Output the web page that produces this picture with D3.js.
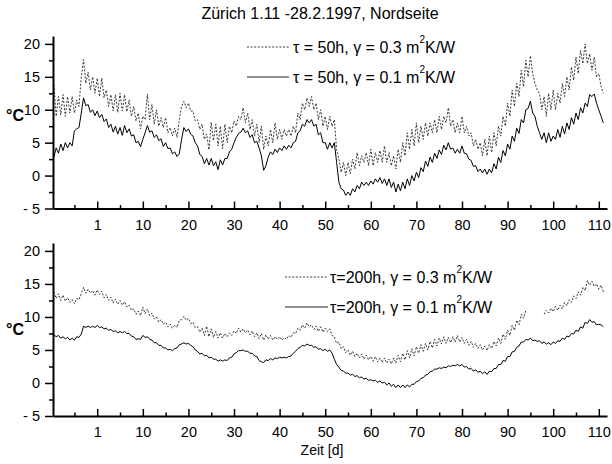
<!DOCTYPE html>
<html>
<head>
<meta charset="utf-8">
<script src="https://cdn.jsdelivr.net/npm/d3@7"></script>
<style>
  body { margin: 0; background: #fff; }
  svg { font-family: "Liberation Sans", Arial, sans-serif; }
</style>
</head>
<body>
<svg id="chart" width="612" height="464"></svg>
<script>
// values, one point every half day starting at day -9.5
const dayStart = -9.5;
const dayStep = 0.5;

// tau = 50h, gamma = 0.3
const tau50g03 = [
  13.8, 9.0, 12.0, 9.2, 12.3, 9.0, 12.0, 9.5, 12.0, 9.5, 11.5, 10.5, 15.0, 17.6, 14.0, 15.7, 13.0, 15.0, 12.5, 14.8,
  12.0, 14.8, 11.8, 13.0, 10.5, 12.3, 9.8, 12.3, 9.6, 12.5, 9.8, 12.3, 9.7, 11.5, 9.0, 10.5, 8.3, 9.5, 7.1, 9.0,
  8.5, 12.4, 8.5, 10.8, 7.8, 10.0, 7.5, 8.8, 7.3, 8.8, 6.5, 7.3, 6.0, 7.2, 5.8, 8.5, 10.5, 11.3, 10.3, 11.0,
  9.8, 9.8, 8.3, 8.5, 7.0, 7.8, 5.5, 6.3, 3.9, 8.1, 5.3, 7.8, 4.5, 7.5, 4.1, 7.8, 5.0, 7.5, 6.5, 8.3,
  7.5, 9.0, 8.5, 10.3, 8.0, 9.5, 7.0, 8.5, 6.0, 7.8, 5.0, 7.5, 4.0, 6.0, 4.5, 7.0, 5.0, 8.0, 5.5, 7.0,
  5.5, 7.0, 6.0, 7.0, 6.0, 7.5, 6.5, 9.5, 8.5, 11.0, 10.0, 11.8, 10.5, 12.0, 10.0, 11.0, 8.5, 10.0, 7.5, 9.0,
  7.0, 9.0, 7.5, 8.5, 4.0, 2.5, 0.5, 2.0, 0.0, 2.0, 0.3, 2.5, 1.0, 3.5, 1.5, 3.0, 2.0, 3.5, 1.5, 4.0,
  1.5, 3.5, 2.0, 3.8, 2.0, 4.5, 2.0, 3.5, 1.5, 3.0, 1.0, 4.0, 2.0, 5.0, 3.0, 6.5, 4.0, 7.0, 4.5, 8.0,
  5.0, 7.5, 5.5, 8.0, 6.0, 8.0, 6.5, 8.5, 6.5, 9.0, 7.0, 9.0, 8.0, 10.3, 7.5, 8.5, 6.5, 8.0, 6.5, 9.0,
  6.5, 7.5, 6.0, 6.5, 4.5, 5.5, 4.0, 5.0, 3.0, 5.5, 3.0, 6.0, 3.5, 6.5, 4.5, 7.5, 6.0, 9.0, 7.5, 11.0,
  9.0, 13.0, 10.5, 14.0, 12.0, 16.0, 13.5, 17.5, 15.0, 18.2, 15.5, 14.0, 13.0, 12.5, 10.0, 12.0, 9.0, 12.5, 10.0, 13.0,
  10.0, 12.5, 11.0, 14.0, 12.0, 15.0, 13.0, 16.5, 14.5, 18.0, 15.5, 19.0, 17.0, 20.0, 17.0, 18.5, 16.0, 18.0, 15.0, 15.5,
  13.5, 12.5
];

// tau = 50h, gamma = 0.1
const tau50g01 = [
  2.8, 4.2, 3.4, 4.8, 3.8, 5.0, 4.2, 5.0, 4.5, 6.8, 7.1, 7.3, 9.5, 11.8, 10.6, 10.8, 9.6, 10.0, 9.1, 9.8,
  8.8, 9.3, 8.2, 8.6, 7.3, 7.8, 6.6, 7.5, 6.3, 7.3, 6.1, 7.6, 6.5, 7.1, 6.0, 6.2, 5.0, 5.2, 4.4, 5.5,
  6.5, 7.6, 6.6, 6.8, 5.8, 6.2, 5.3, 5.6, 4.4, 5.0, 4.1, 4.2, 3.3, 3.6, 2.9, 3.3, 5.5, 7.3, 6.7, 7.1,
  6.3, 6.0, 5.0, 4.5, 3.2, 2.9, 1.8, 2.6, 1.6, 2.6, 1.5, 2.1, 0.9, 2.4, 1.6, 2.6, 2.6, 3.6, 4.0, 5.0,
  5.8, 6.4, 6.6, 7.2, 6.5, 6.8, 5.8, 6.2, 5.0, 5.2, 4.2, 3.0, 0.8, 1.5, 2.8, 3.6, 3.2, 4.0, 3.5, 4.2,
  3.8, 4.5, 4.0, 4.6, 4.2, 5.0, 5.2, 6.5, 6.8, 7.8, 7.5, 8.5, 8.0, 8.5, 7.5, 7.8, 6.2, 6.5, 5.0, 5.0,
  4.0, 5.0, 4.2, 5.0, 2.0, -1.0, -2.0, -2.2, -3.0, -2.5, -3.0, -2.0, -2.5, -1.5, -2.0, -1.0, -1.5, -1.0, -1.5, -0.8,
  -1.3, -0.5, -1.0, -0.3, -1.2, -0.5, -1.5, -0.5, -1.8, -1.0, -2.5, -1.3, -2.3, -1.0, -2.0, -0.5, -1.5, 0.0, -0.8, 0.5,
  -0.3, 1.2, 0.6, 2.2, 1.4, 2.8, 2.0, 3.4, 2.6, 3.9, 3.2, 4.6, 3.9, 5.0, 4.0, 4.2, 3.4, 4.0, 3.4, 4.5,
  3.4, 3.3, 2.5, 2.3, 1.4, 1.5, 0.6, 1.0, 0.4, 1.0, 0.2, 1.0, 0.4, 1.8, 1.0, 2.8, 2.0, 3.8, 3.0, 4.8,
  4.0, 6.0, 5.2, 7.2, 6.4, 8.5, 8.0, 10.0, 10.2, 11.3, 9.5, 9.0, 7.5, 6.5, 5.5, 6.5, 5.0, 6.5, 5.2, 6.0,
  5.5, 7.0, 5.8, 7.5, 6.3, 8.0, 7.0, 8.8, 7.8, 9.5, 8.5, 10.3, 9.5, 11.0, 10.5, 12.3, 12.0, 12.4, 11.0, 10.0,
  9.0, 8.0
];

// tau = 200h, gamma = 0.3 (gap in the record around day 95-97)
const tau200g03 = [
  13.8, 12.8, 13.5, 12.5, 13.3, 12.4, 12.9, 12.2, 12.6, 12.0, 12.8, 12.6, 13.5, 14.5, 13.6, 14.2, 13.6, 14.0, 13.3, 14.1,
  13.4, 13.9, 12.9, 13.4, 12.5, 13.0, 12.1, 12.7, 11.9, 12.5, 11.8, 12.3, 11.5, 11.8, 11.0, 11.2, 10.4, 10.9, 10.2, 11.5,
  10.5, 11.2, 10.2, 10.6, 9.7, 10.0, 9.2, 9.6, 8.9, 9.2, 8.5, 8.9, 8.3, 8.8, 8.4, 9.5, 9.6, 10.1, 9.5, 9.8,
  9.0, 9.2, 8.4, 8.5, 7.7, 8.3, 7.2, 8.6, 7.0, 8.2, 6.9, 7.8, 6.8, 7.6, 6.8, 7.5, 7.0, 7.6, 7.2, 7.9,
  7.5, 8.3, 7.7, 8.2, 7.6, 8.0, 7.3, 7.9, 7.0, 7.6, 6.7, 7.5, 6.5, 7.3, 6.6, 7.2, 6.5, 7.0, 6.6, 7.0,
  6.5, 6.9, 6.6, 7.2, 6.9, 7.6, 7.5, 8.3, 8.0, 8.8, 8.3, 9.1, 8.5, 8.8, 8.1, 8.6, 7.8, 8.5, 7.7, 8.3,
  7.8, 8.2, 7.2, 7.0, 6.0, 6.2, 5.2, 5.5, 4.6, 5.0, 4.2, 4.8, 4.0, 4.5, 3.8, 4.4, 3.6, 4.2, 3.5, 4.0,
  3.3, 4.0, 3.2, 3.8, 3.1, 3.8, 3.0, 3.6, 2.9, 3.8, 3.0, 4.2, 3.2, 4.5, 3.5, 4.9, 3.8, 5.2, 4.1, 5.5,
  4.5, 5.8, 4.8, 6.0, 5.0, 6.3, 5.3, 6.6, 5.6, 6.8, 5.9, 7.0, 6.0, 6.9, 6.1, 7.0, 6.2, 7.2, 6.2, 6.9,
  6.0, 6.6, 5.7, 6.3, 5.4, 6.0, 5.2, 5.8, 5.0, 5.6, 4.9, 5.8, 5.2, 6.3, 5.6, 6.8, 6.0, 7.4, 6.6, 8.0,
  7.2, 8.7, 8.0, 9.5, 8.8, 10.4, 9.8, 11.0, null, null, null, null, null, null, null, 10.4, 11.0, 10.6, 11.3, 10.8,
  11.6, 11.0, 11.8, 11.2, 12.2, 11.7, 12.6, 12.2, 13.2, 12.8, 13.8, 13.3, 14.5, 14.0, 15.5, 14.8, 15.4, 14.6, 15.0, 14.2,
  14.8, 13.8
];

// tau = 200h, gamma = 0.1
const tau200g01 = [
  7.3, 7.0, 7.2, 6.8, 7.0, 6.7, 6.9, 6.5, 6.8, 6.5, 7.0, 6.9, 7.4, 8.6, 8.4, 8.6, 8.4, 8.6, 8.4, 8.7,
  8.4, 8.5, 8.2, 8.3, 8.0, 8.1, 7.8, 7.9, 7.6, 7.8, 7.6, 7.8, 7.5, 7.5, 7.1, 7.0, 6.6, 6.7, 6.6, 7.2,
  6.9, 7.0, 6.6, 6.5, 6.1, 6.1, 5.7, 5.7, 5.3, 5.3, 5.0, 5.1, 4.9, 5.2, 5.3, 5.8, 5.9, 6.1, 5.9, 6.0,
  5.7, 5.5, 5.0, 4.8, 4.4, 4.5, 4.1, 4.2, 3.8, 3.9, 3.6, 3.6, 3.3, 3.5, 3.3, 3.5, 3.4, 3.8, 3.9, 4.4,
  4.6, 4.9, 4.9, 5.0, 4.8, 4.8, 4.5, 4.5, 4.1, 4.0, 3.4, 3.2, 3.1, 3.5, 3.4, 3.7, 3.5, 3.8, 3.7, 3.9,
  3.8, 3.9, 3.8, 4.0, 4.1, 4.5, 4.8, 5.2, 5.4, 5.7, 5.6, 5.9, 5.7, 5.7, 5.4, 5.5, 5.1, 5.2, 4.9, 5.1,
  4.8, 5.0, 4.5, 3.6, 2.8, 2.4, 1.9, 1.8, 1.5, 1.5, 1.2, 1.3, 1.0, 1.1, 0.8, 0.9, 0.6, 0.7, 0.4, 0.5,
  0.3, 0.4, 0.1, 0.3, 0.0, 0.1, -0.3, 0.0, -0.5, -0.2, -0.7, -0.3, -0.7, -0.3, -0.7, -0.3, -0.6, -0.2, -0.2, 0.2,
  0.3, 0.7, 0.8, 1.2, 1.3, 1.7, 1.8, 2.1, 2.1, 2.3, 2.2, 2.4, 2.3, 2.6, 2.5, 2.7, 2.6, 2.8, 2.6, 2.8,
  2.4, 2.5, 2.1, 2.2, 1.8, 2.0, 1.6, 1.8, 1.4, 1.7, 1.3, 1.8, 1.7, 2.2, 2.2, 2.8, 2.8, 3.4, 3.3, 4.0,
  4.0, 4.7, 4.8, 5.4, 5.6, 6.2, 6.2, 6.6, 6.5, 6.8, 6.4, 6.5, 6.3, 6.4, 6.0, 6.2, 5.9, 6.1, 5.8, 6.2,
  6.0, 6.4, 6.3, 6.8, 6.6, 7.1, 7.0, 7.5, 7.4, 8.0, 7.8, 8.5, 8.3, 9.2, 9.0, 9.6, 9.2, 9.3, 8.8, 8.9,
  8.8, 8.5
];

const xTickValues = [0, 10, 20, 30, 40, 50, 60, 70, 80, 90, 100, 110];
const xTickLabels = ["1", "10", "20", "30", "40", "50", "60", "70", "80", "90", "100", "110"];
const xMinorTicks = [-5, 5, 15, 25, 35, 45, 55, 65, 75, 85, 95, 105];
const yTickValues = [-5, 0, 5, 10, 15, 20];
const yTickLabels = ["- 5", "0", "5", "10", "15", "20"];
const yMinorTicks = [-2.5, 2.5, 7.5, 12.5, 17.5];

const titleText = "Zürich 1.11 -28.2.1997, Nordseite";
const xTitle = "Zeit [d]";
const yTitle = "°C";
const legendTop = [["τ = 50h, γ = 0.3 m", "2", "K/W"], ["τ = 50h, γ = 0.1 m", "2", "K/W"]];
const legendBottom = [["τ=200h, γ = 0.3 m", "2", "K/W"], ["τ=200h, γ = 0.1 m", "2", "K/W"]];

const svg = d3.select("#chart");
svg.append("rect").attr("width", 612).attr("height", 464).attr("fill", "#fff");

const x = d3.scaleLinear().domain([-9.7, 111.8]).range([53, 607]);

function toPoints(values) {
  return values.map((v, i) => ({ day: dayStart + i * dayStep, v: v }));
}

function drawPanel(yRange, dashed, solid, legend, legendBox) {
  const y = d3.scaleLinear().domain([-5, 21.2]).range(yRange);
  const g = svg.append("g");
  const base = yRange[0];

  // curves
  const line = d3.line()
    .defined(d => d.v != null)
    .x(d => x(d.day))
    .y(d => y(d.v));
  g.append("path").datum(toPoints(dashed))
    .attr("d", line).attr("fill", "none")
    .attr("stroke", "#222").attr("stroke-width", 0.9)
    .attr("stroke-dasharray", "2,1.6");
  g.append("path").datum(toPoints(solid))
    .attr("d", line).attr("fill", "none")
    .attr("stroke", "#000").attr("stroke-width", 1);

  // y axis
  g.append("g").attr("transform", "translate(53,0)")
    .call(d3.axisLeft(y).tickValues(yTickValues).tickSize(8).tickPadding(5)
      .tickSizeOuter(0).tickFormat((d, i) => yTickLabels[i]));
  g.append("g").attr("transform", "translate(53,0)")
    .call(d3.axisLeft(y).tickValues(yMinorTicks).tickSize(4).tickFormat(""))
    .select(".domain").remove();

  // x axis, ticks pointing up
  g.append("g").attr("transform", `translate(0,${base})`)
    .call(d3.axisBottom(x).tickValues(xTickValues).tickSize(-7).tickPadding(11)
      .tickSizeOuter(0).tickFormat((d, i) => xTickLabels[i]));
  g.append("g").attr("transform", `translate(0,${base})`)
    .call(d3.axisBottom(x).tickValues(xMinorTicks).tickSize(-3.5).tickFormat(""))
    .select(".domain").remove();

  g.selectAll(".domain").attr("stroke", "#000").attr("stroke-width", 2);
  g.selectAll(".tick line").attr("stroke", "#000").attr("stroke-width", 1.5);
  g.selectAll(".tick text").attr("fill", "#000").style("font-size", "14.5px")
    .style("font-family", "'Liberation Sans', Arial, sans-serif");

  // unit label
  g.append("text").attr("x", 6).attr("y", y(10) + legendBox.unitDy)
    .style("font-size", "16px").style("font-weight", "bold").text(yTitle);

  // legend
  legend.forEach((parts, i) => {
    const ly = legendBox.y + i * legendBox.gap;
    g.append("line").attr("x1", legendBox.x1).attr("x2", legendBox.x2)
      .attr("y1", ly).attr("y2", ly)
      .attr("stroke", "#222").attr("stroke-width", i === 0 ? 0.9 : 1)
      .attr("stroke-dasharray", i === 0 ? "2,1.6" : null);
    const t = g.append("text").attr("x", legendBox.tx).attr("y", ly + 6)
      .style("font-size", "16px");
    t.append("tspan").text(parts[0]);
    t.append("tspan").attr("dy", -10).style("font-size", "10px").text(parts[1]);
    t.append("tspan").attr("dy", 10).text(parts[2]);
  });
}

drawPanel([208.5, 36], tau50g03, tau50g01, legendTop,
  { x1: 247, x2: 289, tx: 293, y: 47, gap: 30, unitDy: 11 });
drawPanel([416, 243], tau200g03, tau200g01, legendBottom,
  { x1: 285, x2: 328, tx: 330, y: 277, gap: 30, unitDy: 18 });

svg.append("text").attr("x", 320).attr("y", 19).attr("text-anchor", "middle")
  .style("font-size", "16px").text(titleText);
svg.append("text").attr("x", 322).attr("y", 455).attr("text-anchor", "middle")
  .style("font-size", "14px").text(xTitle);
</script>
</body>
</html>
